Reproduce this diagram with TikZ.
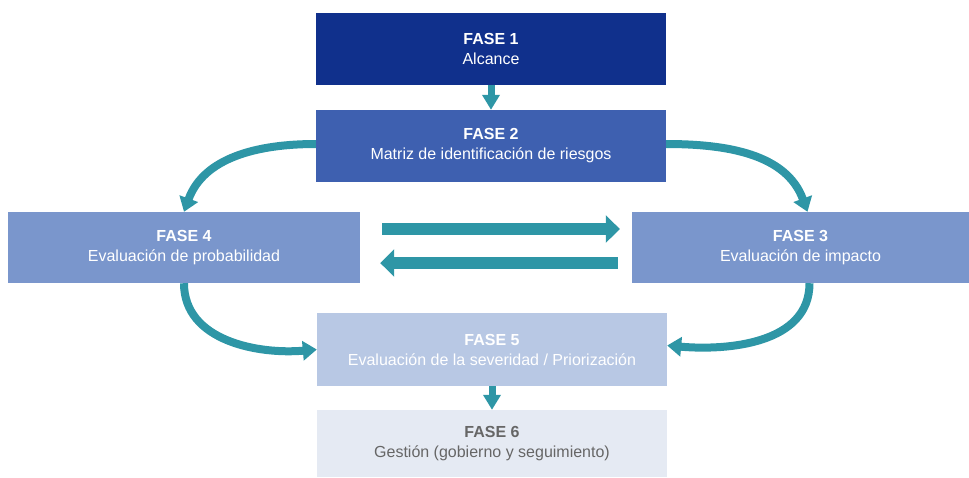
\documentclass[tikz,border=0pt]{standalone}
\usepackage{fontspec}
\setmainfont{Liberation Sans}
\usetikzlibrary{positioning,shapes,arrows.meta}
\definecolor{faseA}{RGB}{16,48,140}
\definecolor{faseB}{RGB}{62,96,176}
\definecolor{faseC}{RGB}{122,150,204}
\definecolor{faseD}{RGB}{184,200,228}
\definecolor{faseE}{RGB}{229,234,243}
\definecolor{flecha}{RGB}{46,150,166}
\tikzset{fase/.style={rectangle,draw=none,inner sep=0pt,align=center,text=white,
    font=\fontsize{16}{20}\selectfont,minimum width=350pt,minimum height=72pt},
  paso/.style={draw=flecha,line width=7pt,-{Triangle[width=17pt,length=15pt]}},
  curva/.style={draw=flecha,line width=8pt,-{Triangle[width=19pt,length=14pt]}},
  cambio/.style={draw=flecha,line width=12pt,-{Triangle[width=27pt,length=14pt]}}}

\begin{document}
\begin{tikzpicture}[x=1pt,y=-1pt]
\useasboundingbox (0,0) rectangle (969,477);
\node[fase,fill=faseA] (f1) at (491,49) {\textbf{FASE 1}\\Alcance};
\node[fase,fill=faseB] (f2) at (491,146) {\textbf{FASE 2}\\Matriz de identificación de riesgos};
\node[fase,fill=faseC,minimum width=352pt,minimum height=71pt] (f4) at (184,247.5) {\textbf{FASE 4}\\Evaluación de probabilidad};
\node[fase,fill=faseC,minimum width=337pt,minimum height=71pt] (f3) at (800.5,247.5) {\textbf{FASE 3}\\Evaluación de impacto};
\node[fase,fill=faseD,minimum height=73pt] (f5) at (492,349.5) {\textbf{FASE 5}\\Evaluación de la severidad / Priorización};
\node[fase,fill=faseE,text=black!60,minimum height=67pt] (f6) at (492,443.5) {\textbf{FASE 6}\\Gestión (gobierno y seguimiento)};
% flechas verticales
\draw[paso] (f1.south) -- (f2.north);
\draw[paso] (f5.south) -- (f6.north);
% entre fase 4 y fase 3
\draw[cambio,shorten <=22pt,shorten >=12pt] ([yshift=18.5pt]f4.east) -- ([yshift=18.5pt]f3.west);
\draw[cambio,shorten <=14pt,shorten >=20pt] ([yshift=-15.5pt]f3.west) -- ([yshift=-15.5pt]f4.east);
% curvas
\draw[curva] ([yshift=2pt]f2.west) to[out=180,in=70] (f4.north);
\draw[curva] ([yshift=2pt]f2.east) to[out=0,in=110] ([xshift=7pt]f3.north);
\draw[curva] (f4.south) to[out=-90,in=185] (f5.west);
\draw[curva] ([xshift=9pt]f3.south) to[out=-90,in=-5] ([yshift=4pt]f5.east);
\end{tikzpicture}
\end{document}
